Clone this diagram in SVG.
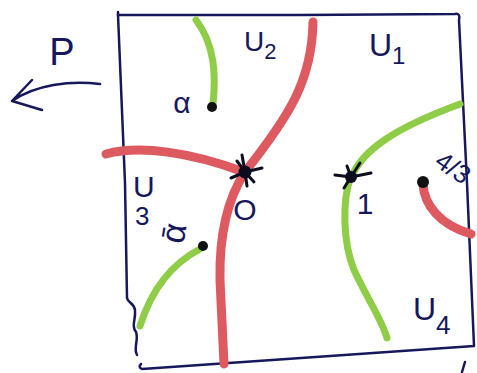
<svg xmlns="http://www.w3.org/2000/svg" width="477" height="373" viewBox="0 0 477 373">
<style>
.ink{fill:none;stroke:#17175c;stroke-width:2.5;stroke-linecap:round;stroke-linejoin:round}
.red{fill:none;stroke:#de5a61;stroke-width:9;stroke-linecap:round;stroke-linejoin:round}
.green{fill:none;stroke:#8fcc48;stroke-width:7;stroke-linecap:round;stroke-linejoin:round}
.lbl{font-family:"Liberation Sans",Arial,sans-serif;fill:#17175c}
.spike{stroke:#0d0d20;stroke-width:3;stroke-linecap:round}
</style>
<rect width="477" height="373" fill="#ffffff"/>
<g id="frame">
<path class="ink" d="M118,12 L118,15 L300,15 L455,14 C459,13 460,16 459,20 L467,183 L474,346 L330,356 L142,369 M142,369 C139,368 139,366 141,364"/>
<path class="ink" d="M118,15 L125,183 L127,298 C128,303 134,303 135,310 C136,320 131,325 136,332 C139,340 133,348 137,355"/>
<path class="ink" d="M465,362 L462,372"/>
</g>
<g id="curves">
<path class="red" d="M106,154 C140,145 190,152 244,172"/>
<path class="red" d="M313,22 C312,80 290,115 245,172"/>
<path class="red" d="M245,172 C230,195 219,230 220,280 L224,364"/>
<path class="red" d="M423,184 C424,205 440,225 471,234"/>
<path class="green" d="M196,20 C215,45 216,75 213,104"/>
<path class="green" d="M351,178 C362,150 395,128 460,104"/>
<path class="green" d="M350,179 C343,200 342,240 354,270 C368,300 382,320 387,338"/>
<path class="green" d="M200,249 C175,262 153,285 140,326"/>
</g>
<g id="points">
<circle cx="212" cy="107" r="5" fill="#111"/>
<circle cx="203" cy="246" r="5" fill="#111"/>
<circle cx="423" cy="182" r="6" fill="#111"/>
</g>
<g id="node-O">
<circle cx="245" cy="172" r="6.5" fill="#0d0d20"/>
<line class="spike" x1="245" y1="172" x2="242" y2="155"/>
<line class="spike" x1="245" y1="172" x2="262" y2="168"/>
<line class="spike" x1="245" y1="172" x2="254" y2="182"/>
<line class="spike" x1="245" y1="172" x2="247" y2="186"/>
<line class="spike" x1="245" y1="172" x2="231" y2="178"/>
<line class="spike" x1="245" y1="172" x2="237" y2="161"/>
<text class="lbl" x="245" y="220" font-size="30" text-anchor="middle">O</text>
</g>
<g id="node-1">
<circle cx="351" cy="177" r="6" fill="#0d0d20"/>
<line class="spike" x1="351" y1="177" x2="335" y2="175"/>
<line class="spike" x1="351" y1="177" x2="360" y2="163"/>
<line class="spike" x1="351" y1="177" x2="371" y2="173"/>
<line class="spike" x1="351" y1="177" x2="344" y2="188"/>
<line class="spike" x1="351" y1="177" x2="347" y2="166"/>
<text class="lbl" x="365" y="214" font-size="30" text-anchor="middle">1</text>
</g>
<g id="labels">
<text class="lbl" x="62" y="65" font-size="38" text-anchor="middle">P</text>
<path class="ink" d="M100,84 C70,80 35,85 12,101 M32,80 L12,101 L42,110"/>
<text class="lbl" x="182" y="113" font-size="30" text-anchor="middle">α</text>
<text class="lbl" font-size="34" text-anchor="middle" transform="translate(185,235) rotate(-80)">ᾱ</text>
<text class="lbl" font-size="26" text-anchor="middle" transform="translate(448,175) rotate(35)">4/3</text>
<text class="lbl" x="244" y="51" font-size="28">U<tspan font-size="22" dy="8">2</tspan></text>
<text class="lbl" x="369" y="56" font-size="32">U<tspan font-size="24" dy="8">1</tspan></text>
<text class="lbl" x="133" y="197" font-size="30">U</text>
<text class="lbl" x="135" y="225" font-size="26">3</text>
<text class="lbl" x="413" y="320" font-size="32">U<tspan font-size="26" dy="14">4</tspan></text>
</g>
</svg>
